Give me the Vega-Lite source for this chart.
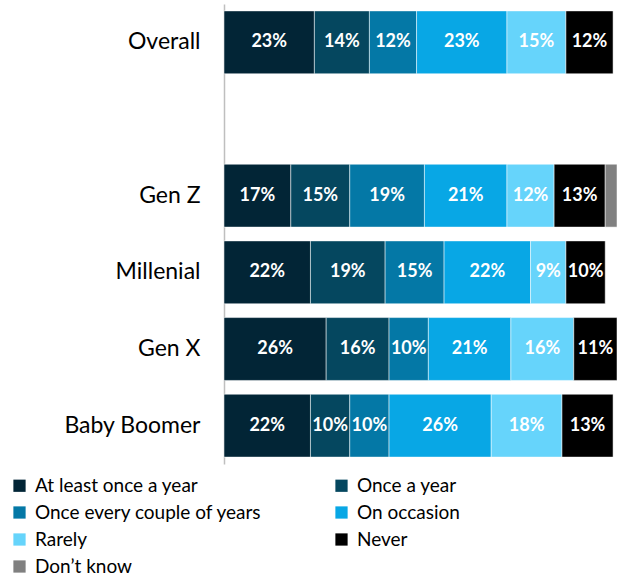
{
  "$schema": "https://vega.github.io/schema/vega-lite/v6.json",
  "width": 393,
  "height": 460,
  "autosize": "none",
  "padding": {"left": 224, "top": 4, "right": 0, "bottom": 111},
  "background": "white",
  "config": {"view": {"stroke": null}, "font": "Lato"},
  "data": {
    "values": [
      {"group": "Overall", "answer": "At least once a year", "pct": 23},
      {"group": "Overall", "answer": "Once a year", "pct": 14},
      {"group": "Overall", "answer": "Once every couple of years", "pct": 12},
      {"group": "Overall", "answer": "On occasion", "pct": 23},
      {"group": "Overall", "answer": "Rarely", "pct": 15},
      {"group": "Overall", "answer": "Never", "pct": 12},
      {"group": "Gen Z", "answer": "At least once a year", "pct": 17},
      {"group": "Gen Z", "answer": "Once a year", "pct": 15},
      {"group": "Gen Z", "answer": "Once every couple of years", "pct": 19},
      {"group": "Gen Z", "answer": "On occasion", "pct": 21},
      {"group": "Gen Z", "answer": "Rarely", "pct": 12},
      {"group": "Gen Z", "answer": "Never", "pct": 13},
      {"group": "Gen Z", "answer": "Don’t know", "pct": 3},
      {"group": "Millenial", "answer": "At least once a year", "pct": 22},
      {"group": "Millenial", "answer": "Once a year", "pct": 19},
      {"group": "Millenial", "answer": "Once every couple of years", "pct": 15},
      {"group": "Millenial", "answer": "On occasion", "pct": 22},
      {"group": "Millenial", "answer": "Rarely", "pct": 9},
      {"group": "Millenial", "answer": "Never", "pct": 10},
      {"group": "Gen X", "answer": "At least once a year", "pct": 26},
      {"group": "Gen X", "answer": "Once a year", "pct": 16},
      {"group": "Gen X", "answer": "Once every couple of years", "pct": 10},
      {"group": "Gen X", "answer": "On occasion", "pct": 21},
      {"group": "Gen X", "answer": "Rarely", "pct": 16},
      {"group": "Gen X", "answer": "Never", "pct": 11},
      {"group": "Baby Boomer", "answer": "At least once a year", "pct": 22},
      {"group": "Baby Boomer", "answer": "Once a year", "pct": 10},
      {"group": "Baby Boomer", "answer": "Once every couple of years", "pct": 10},
      {"group": "Baby Boomer", "answer": "On occasion", "pct": 26},
      {"group": "Baby Boomer", "answer": "Rarely", "pct": 18},
      {"group": "Baby Boomer", "answer": "Never", "pct": 13}
    ]
  },
  "transform": [
    {"calculate": "indexof(['At least once a year','Once a year','Once every couple of years','On occasion','Rarely','Never','Don’t know'], datum.answer)", "as": "ord"},
    {"stack": "pct", "groupby": ["group"], "sort": [{"field": "ord", "order": "ascending"}], "as": ["x0", "x1"]},
    {"calculate": "(datum.x0 + datum.x1) / 2", "as": "mid"},
    {"calculate": "datum.pct + '%'", "as": "label"}
  ],
  "encoding": {
    "y": {
      "field": "group",
      "type": "nominal",
      "scale": {"domain": ["Overall", " ", "Gen Z", "Millenial", "Gen X", "Baby Boomer"], "paddingInner": 0.18, "paddingOuter": 0.09},
      "axis": {"title": null, "ticks": false, "labelFontSize": 23, "labelColor": "#000000", "labelPadding": 24, "domainColor": "#bfbfbf", "domainWidth": 1.5, "labelFont": "Lato"}
    }
  },
  "layer": [
    {
      "mark": {"type": "bar", "stroke": "#ffffff", "strokeWidth": 0.5},
      "encoding": {
        "x": {"field": "x0", "type": "quantitative", "scale": {"domain": [0, 100], "nice": false}, "axis": null},
        "x2": {"field": "x1"},
        "color": {
          "field": "answer",
          "type": "nominal",
          "scale": {
            "domain": ["At least once a year", "Once a year", "Once every couple of years", "On occasion", "Rarely", "Never", "Don’t know"],
            "range": ["#022536", "#05475f", "#0478a6", "#08a7e5", "#66d4fb", "#000000", "#808080"]
          },
          "legend": {
            "title": null,
            "orient": "none",
            "legendX": -214,
            "legendY": 472,
            "direction": "horizontal",
            "columns": 2,
            "columnPadding": 70,
            "rowPadding": 7,
            "symbolType": "square",
            "symbolSize": 150,
            "symbolStrokeWidth": 0,
            "labelFontSize": 19,
            "labelColor": "#000000",
            "labelFont": "Lato",
            "labelLimit": 400,
            "labelOffset": 6
          }
        },
        "order": {"field": "ord", "type": "quantitative"}
      }
    },
    {
      "transform": [{"filter": "datum.pct >= 5"}],
      "mark": {"type": "text", "color": "white", "fontWeight": "bold", "fontSize": 18, "align": "center", "baseline": "middle", "font": "Lato"},
      "encoding": {
        "x": {"field": "mid", "type": "quantitative"},
        "text": {"field": "label", "type": "nominal"},
        "detail": {"field": "answer"}
      }
    }
  ]
}
